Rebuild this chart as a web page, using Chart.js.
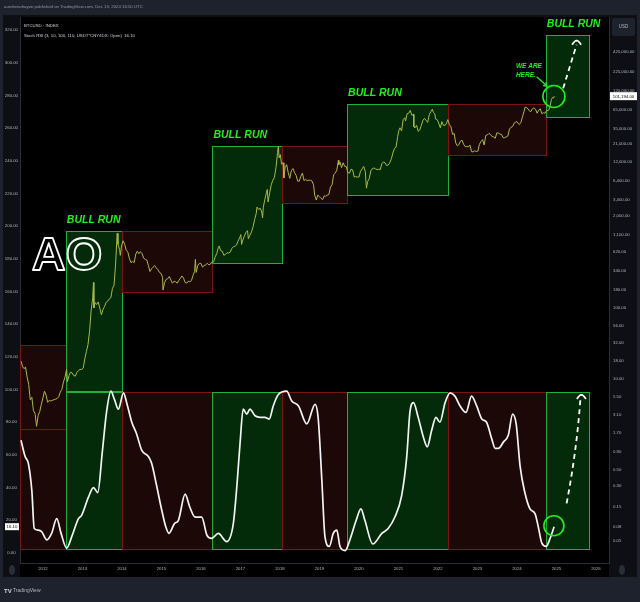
<!DOCTYPE html>
<html><head><meta charset="utf-8">
<script src="https://cdn.jsdelivr.net/npm/chart.js@4.4.1/dist/chart.umd.min.js"></script>
<style>html,body{margin:0;padding:0;background:#1e222d;}canvas{display:block;}</style>
</head><body>
<canvas id="c" width="640" height="602"></canvas>
<script>
// ---------- DATA ----------
const yearTicks = [2012,2013,2014,2015,2016,2017,2018,2019,2020,2021,2022,2023,2024,2025,2026];
const leftTicks = [0,20,40,60,80,100,120,140,160,180,200,220,240,260,280,300,320];
const rightTicks = [0.05,0.08,0.15,0.3,0.5,0.9,1.7,3.1,5.5,10,18,32,56,100,180,340,620,1100,2000,3400,6400,12000,21000,35000,65000,120000,225000,425000];

const priceDates = [2011.45,2011.48,2011.52,2011.56,2011.60,2011.64,2011.68,2011.72,2011.76,2011.80,2011.84,2011.88,2011.92,2011.96,
2012.00,2012.04,2012.08,2012.12,2012.16,2012.20,2012.24,2012.28,2012.32,2012.36,2012.40,2012.44,2012.48,2012.52,2012.56,2012.60,2012.62,2012.66,2012.70,2012.74,2012.78,2012.82,2012.86,2012.90,2012.94,2012.98,
2013.02,2013.06,2013.10,2013.14,2013.18,2013.22,2013.26,2013.28,2013.29,2013.32,2013.36,2013.40,2013.44,2013.48,2013.52,2013.56,2013.60,2013.64,2013.68,2013.72,2013.76,2013.80,2013.84,2013.88,2013.90,2013.94,2013.96,2013.99,
2014.03,2014.07,2014.11,2014.15,2014.19,2014.23,2014.27,2014.31,2014.35,2014.39,2014.43,2014.47,2014.51,2014.55,2014.59,2014.63,2014.67,2014.71,2014.75,2014.79,2014.83,2014.87,2014.91,2014.95,2014.99,
2015.03,2015.04,2015.08,2015.12,2015.16,2015.20,2015.24,2015.28,2015.32,2015.36,2015.40,2015.44,2015.48,2015.52,2015.56,2015.60,2015.64,2015.68,2015.72,2015.76,2015.80,2015.84,2015.86,2015.88,2015.92,2015.96,
2016.00,2016.04,2016.08,2016.12,2016.16,2016.20,2016.24,2016.28,2016.32,2016.36,2016.40,2016.44,2016.46,2016.50,2016.54,2016.58,2016.62,2016.66,2016.70,2016.74,2016.78,2016.82,2016.86,2016.90,2016.94,2016.98,
2017.01,2017.03,2017.06,2017.10,2017.14,2017.18,2017.20,2017.24,2017.28,2017.32,2017.36,2017.40,2017.42,2017.46,2017.50,2017.54,2017.56,2017.58,2017.62,2017.66,2017.68,2017.70,2017.74,2017.78,2017.82,2017.86,2017.90,2017.94,2017.96,2017.98,
2018.01,2018.04,2018.08,2018.10,2018.13,2018.17,2018.21,2018.25,2018.29,2018.33,2018.37,2018.41,2018.45,2018.49,2018.53,2018.57,2018.61,2018.65,2018.69,2018.73,2018.77,2018.81,2018.85,2018.88,2018.92,2018.96,
2019.00,2019.04,2019.08,2019.12,2019.16,2019.20,2019.24,2019.28,2019.32,2019.36,2019.40,2019.44,2019.48,2019.49,2019.52,2019.56,2019.60,2019.64,2019.68,2019.72,2019.76,2019.80,2019.84,2019.88,2019.92,2019.96,
2020.00,2020.04,2020.08,2020.12,2020.16,2020.19,2020.22,2020.26,2020.30,2020.34,2020.38,2020.42,2020.46,2020.50,2020.54,2020.58,2020.62,2020.66,2020.70,2020.74,2020.78,2020.82,2020.86,2020.90,2020.94,2020.98,
2021.01,2021.04,2021.08,2021.12,2021.16,2021.18,2021.22,2021.26,2021.30,2021.34,2021.38,2021.39,2021.42,2021.46,2021.50,2021.54,2021.58,2021.62,2021.66,2021.70,2021.74,2021.78,2021.82,2021.86,2021.88,2021.92,2021.94,2021.98,
2022.02,2022.06,2022.10,2022.14,2022.18,2022.22,2022.25,2022.29,2022.33,2022.37,2022.41,2022.45,2022.49,2022.53,2022.57,2022.61,2022.65,2022.69,2022.73,2022.77,2022.81,2022.85,2022.89,2022.93,2022.97,
2023.01,2023.05,2023.09,2023.13,2023.17,2023.21,2023.25,2023.29,2023.33,2023.37,2023.41,2023.45,2023.49,2023.53,2023.57,2023.61,2023.65,2023.69,2023.73,2023.77,2023.81,2023.85,2023.89,2023.93,2023.97,
2024.00,2024.03,2024.06,2024.10,2024.14,2024.18,2024.21,2024.25,2024.28,2024.31,2024.35,2024.39,2024.43,2024.47,2024.51,2024.55,2024.59,2024.63,2024.67,2024.71,2024.75,2024.79,2024.83,2024.87,2024.90,2024.92,2024.95];
const priceValues = [17.5,15.0,13.8,14.5,10.5,8.2,5.0,5.4,3.5,3.2,2.1,3.0,3.4,4.3,
5.3,6.6,5.8,4.6,4.9,4.8,4.9,5.0,5.1,5.2,5.5,6.4,7.0,8.9,10.5,13.5,9.0,11.0,12.3,12.0,11.0,10.8,12.2,12.9,13.5,13.4,
14.0,19.0,24.0,30.0,46.0,91.0,140,230,100,120,112,122,100,80,95,105,120,125,135,140,190,210,420,1150,800,680,560,760,
900,800,660,620,500,440,460,440,580,640,590,630,590,510,490,480,400,330,360,380,400,370,350,320,310,
270,180,230,255,260,280,250,225,240,235,225,245,265,285,265,230,225,240,235,245,290,330,490,320,400,430,
430,380,400,410,430,410,420,450,450,530,590,720,760,650,640,560,575,610,600,620,700,735,750,780,890,990,
1100,800,920,1050,1180,1250,960,1080,1200,1420,1800,2200,2700,2500,2600,2300,1900,2700,3500,4400,4800,3200,4300,5600,6500,7100,9800,16000,19400,13500,
15000,11000,11500,7000,9800,10800,8300,6900,8900,9500,8300,7600,6300,6300,7400,8200,6400,6700,6400,6500,6500,6350,5600,4000,3400,4000,
3800,3600,3450,3900,3850,4000,4100,5200,5600,7800,8200,9000,12500,10800,11800,9800,11500,10200,10100,8300,8200,9300,9100,7200,7300,7200,
7200,8700,9400,10200,8700,5000,6200,6800,8800,9500,9700,9400,9200,9300,9200,11100,11800,11500,10500,10700,11500,13100,15800,18400,19200,27000,
33000,36000,32500,47000,50000,45000,57000,58000,63500,54000,56000,37000,36000,39000,32000,33500,39000,46000,49000,46000,43000,55000,61000,66000,60000,57000,48000,47000,
42000,36000,44000,39000,39000,42000,47000,40000,37000,29000,30000,22000,20000,20800,23300,24000,21000,19400,19500,19300,20500,16500,16400,17000,16600,
16800,21000,23000,24500,20500,28000,28500,30000,29000,27000,26800,25500,30500,30300,29300,29000,26000,26100,26800,27500,34500,36700,37500,42000,43500,
44000,41500,40000,43000,51500,62000,71000,69000,67000,63000,61000,67000,69000,66000,58000,64000,67000,57000,59000,58000,63000,63000,69000,90000,97000,95000,101194];

const rsiDates = [2011.445,2011.55,2011.63,2011.72,2011.78,2011.88,2011.97,2012.10,2012.22,2012.35,2012.46,2012.60,2012.73,2012.90,2012.98,
2013.15,2013.28,2013.39,2013.50,2013.61,2013.72,2013.81,2013.91,2014.04,2014.12,2014.25,2014.37,2014.50,2014.67,2014.75,2014.88,
2015.01,2015.11,2015.19,2015.33,2015.43,2015.60,2015.72,2015.85,2016.02,2016.15,2016.27,2016.44,2016.65,2016.82,2016.91,2016.99,
2017.07,2017.16,2017.24,2017.37,2017.50,2017.62,2017.73,2017.83,2017.96,2018.17,2018.30,2018.47,2018.68,2018.89,2018.97,
2019.06,2019.14,2019.25,2019.35,2019.44,2019.52,2019.65,2019.77,2019.93,2020.05,2020.15,2020.35,2020.58,2020.74,2020.91,
2021.08,2021.21,2021.29,2021.38,2021.50,2021.63,2021.73,2021.84,2021.95,2022.05,2022.18,2022.31,2022.43,2022.56,2022.71,2022.85,2022.98,
2023.11,2023.23,2023.36,2023.45,2023.53,2023.66,2023.78,2023.89,2023.98,2024.08,2024.20,2024.33,2024.46,2024.54,2024.63,2024.74,2024.84,2024.94];
const rsiValues = [69,59,55,38,15,14,13,8,12,21,12,3,10,21,23,
34,40,37,61,86,99,94,88,98,92,80,73,63,59,55,41,
26,16,12,18,20,36,28,22,22,11,9,12,7,18,41,67,
88,85,88,84,83,83,82,90,97,99,93,90,79,91,82,
45,10,4,12,14,4,1.5,8,20,27,20,5.5,12,15,22,
35,59,86,92,83,71,65,75,83,80,92,98,96,90,86,96,90,
82,80,70,64,64,68,72,85,79,53,37,27,24,16,6,4,9,16.1];

// cycle boxes (price in USD on the log axis, phases)
const boxStart  = [2011.42,2012.58,2013.99,2016.29,2018.06,2019.70,2022.25,2024.73];
const boxEnd    = [2012.58,2013.99,2016.29,2018.06,2019.70,2022.25,2024.73,2025.82];
const boxTop    = [29.9,1249,1249,19860,19860,78300,78300,745000];
const boxBottom = [1.92,6.71,167,435,3086,4008,14800,51200];
const boxPhase  = ['bear','bull','bear','bull','bear','bull','bear','bull'];
const rsiBoxTop = 98.5, rsiBoxBottom = 2.5;
const lastPrice = 101194, lastRsi = 16.1;

// ---------- STYLE ----------
const GREEN_FILL='#032a09', RED_FILL='#1d0808', GREEN_LINE='#20b03a', RED_LINE='#7a1414';
const BRIGHT='#22ee22', FONT='"Liberation Sans", Arial, sans-serif';

const bg = {
  id:'bg',
  beforeDraw(c){
    const g=c.ctx, a=c.chartArea;
    g.save();
    g.fillStyle='#1e222d'; g.fillRect(0,0,640,602);
    g.fillStyle='#0d0f14'; g.fillRect(3,15,634,562);
    g.fillStyle='#000'; g.fillRect(a.left,a.top,a.right-a.left,a.bottom-a.top);
    g.fillStyle='#000'; g.fillRect(a.left,a.bottom,a.right-a.left,14);
    g.fillStyle='#9598a1'; g.font='4.3px '+FONT; g.textBaseline='middle';
    g.fillText('aurelienohayon published on TradingView.com, Dec 13, 2024 16:50 UTC',4,6.5);
    g.fillStyle='#d1d4dc'; g.font='bold 6px '+FONT; g.fillText('TV',4,591);
    g.font='5px '+FONT; g.fillStyle='#b2b5be'; g.fillText('TradingView',13,591);
    g.fillStyle='#2a2e39';
    g.beginPath(); g.ellipse(12,570,3,5,0,0,Math.PI*2); g.fill();
    g.beginPath(); g.ellipse(622,570,3,5,0,0,Math.PI*2); g.fill();
    g.restore();
  }
};

const boxes = {
  id:'boxes',
  beforeDatasetsDraw(c){
    const g=c.ctx, a=c.chartArea, x=c.scales.x, yL=c.scales.yL, yR=c.scales.yR;
    g.save(); g.beginPath(); g.rect(a.left,a.top,a.width,a.height); g.clip();
    g.lineWidth=1;
    for(let i=0;i<boxStart.length;i++){
      const bull=boxPhase[i]==='bull';
      const x0=Math.round(x.getPixelForValue(boxStart[i]))+0.5, x1=Math.round(x.getPixelForValue(boxEnd[i]))+0.5;
      const rects=[[yL.getPixelForValue(rsiBoxTop),yL.getPixelForValue(rsiBoxBottom)],[yR.getPixelForValue(boxTop[i]),yR.getPixelForValue(boxBottom[i])]];
      for(const [t,b] of rects){
        const y0=Math.round(t)+0.5, y1=Math.round(b)+0.5;
        g.fillStyle=bull?GREEN_FILL:RED_FILL; g.fillRect(x0,y0,x1-x0,y1-y0);
        g.strokeStyle=bull?GREEN_LINE:RED_LINE; g.strokeRect(x0,y0,x1-x0,y1-y0);
      }
    }
    g.restore();
  }
};

function arrowHead(g,px,py,w,h){
  g.beginPath(); g.moveTo(px-w,py+h); g.quadraticCurveTo(px-w*0.3,py-h*0.2,px,py); g.quadraticCurveTo(px+w*0.3,py-h*0.2,px+w,py+h); g.stroke();
}

const notes = {
  id:'notes',
  afterDatasetsDraw(c){
    const g=c.ctx, x=c.scales.x, yL=c.scales.yL, yR=c.scales.yR;
    g.save();
    g.fillStyle=BRIGHT; g.font='italic bold 10.5px '+FONT; g.textBaseline='alphabetic';
    for(let i=0;i<boxStart.length;i++){
      if(boxPhase[i]!=='bull') continue;
      g.fillText('BULL RUN', x.getPixelForValue(boxStart[i])+1, yR.getPixelForValue(boxTop[i])-8);
    }
    g.font='bold 47px '+FONT; g.strokeStyle='#ffffff'; g.lineWidth=1.8; g.lineJoin='round';
    g.strokeText('AO', x.getPixelForValue(2011.72), yR.getPixelForValue(346));
    g.font='italic bold 6.5px '+FONT; g.fillStyle=BRIGHT; g.textBaseline='middle';
    const wx=x.getPixelForValue(2023.974), wy=yR.getPixelForValue(265000);
    g.fillText('WE ARE',wx,wy); g.fillText('HERE.',wx,wy+8.5);
    const ax0=x.getPixelForValue(2024.498), ay0=yR.getPixelForValue(190900);
    const ax1=x.getPixelForValue(2024.758), ay1=yR.getPixelForValue(140900);
    g.strokeStyle=BRIGHT; g.lineWidth=1.3;
    g.beginPath(); g.moveTo(ax0,ay0); g.lineTo(ax1,ay1); g.stroke();
    const ang=Math.atan2(ay1-ay0,ax1-ax0);
    g.beginPath(); g.moveTo(ax1-4*Math.cos(ang-0.6),ay1-4*Math.sin(ang-0.6)); g.lineTo(ax1,ay1); g.lineTo(ax1-4*Math.cos(ang+0.6),ay1-4*Math.sin(ang+0.6)); g.stroke();
    g.lineWidth=1.6; g.strokeStyle=BRIGHT;
    g.beginPath(); g.arc(x.getPixelForValue(2024.935), yR.getPixelForValue(100000), 11, 0, Math.PI*2); g.stroke();
    g.beginPath(); g.arc(x.getPixelForValue(2024.935), yL.getPixelForValue(16.7), 10, 0, Math.PI*2); g.stroke();
    g.strokeStyle='#ffffff'; g.lineWidth=1.8; g.setLineDash([5,4]);
    const p0=[x.getPixelForValue(2025.17),yR.getPixelForValue(130700)], pm=[x.getPixelForValue(2025.358),yR.getPixelForValue(295800)], p1=[x.getPixelForValue(2025.51),yR.getPixelForValue(598500)];
    g.beginPath(); g.moveTo(p0[0],p0[1]); g.quadraticCurveTo(2*pm[0]-(p0[0]+p1[0])/2, 2*pm[1]-(p0[1]+p1[1])/2, p1[0], p1[1]+3); g.stroke();
    const q0=[x.getPixelForValue(2025.257),yL.getPixelForValue(30.4)], q1=[x.getPixelForValue(2025.606),yL.getPixelForValue(94.2)];
    g.beginPath(); g.moveTo(q0[0],q0[1]); g.quadraticCurveTo(q0[0]+10,(q0[1]+q1[1])/2,q1[0],q1[1]); g.stroke();
    g.setLineDash([]); g.lineWidth=1.8;
    arrowHead(g,p1[0],p1[1]-1,4.5,4);
    arrowHead(g,q1[0]+1,q1[1]-4,4.5,4);
    g.restore();
  },
  afterDraw(c){
    const g=c.ctx, yL=c.scales.yL, yR=c.scales.yR, a=c.chartArea;
    g.save();
    g.textBaseline='middle';
    g.fillStyle='#d1d4dc'; g.font='4.3px '+FONT;
    g.fillText('BTCUSD · INDEX', a.left+4, 25.5);
    g.fillText('Stoch RSI (3, 10, 100, 110, USDT*CNY/IDX: Open)  16.10', a.left+4, 35.5);
    g.fillStyle='#1e222d'; g.beginPath(); g.roundRect(a.right+3,18,23,18,2); g.fill();
    g.fillStyle='#b2b5be'; g.font='4.5px '+FONT; g.textAlign='center'; g.fillText('USD', a.right+14.5, 27);
    const py=yR.getPixelForValue(lastPrice);
    g.fillStyle='#ffffff'; g.fillRect(a.right+1,py-4,27,8);
    g.fillStyle='#000'; g.font='4.3px '+FONT; g.fillText('101,194.00', a.right+14.5, py+0.3);
    const ry=yL.getPixelForValue(lastRsi);
    g.fillStyle='#ffffff'; g.fillRect(5,ry-3.5,14,7);
    g.fillStyle='#000'; g.fillText('16.10', 12, ry+0.3);
    g.restore();
  }
};

const fmt2 = v => Number(v).toLocaleString('en-US',{minimumFractionDigits:2,maximumFractionDigits:2});
const tickFont = {size:4.3, family:FONT};

new Chart(document.getElementById('c'), {
  type:'line',
  data:{datasets:[
    {label:'BTCUSD', data:priceDates.map((d,i)=>({x:d,y:priceValues[i]})), yAxisID:'yR', borderColor:'#a9b943', borderWidth:1, pointRadius:0, tension:0},
    {label:'Stoch RSI', data:rsiDates.map((d,i)=>({x:d,y:rsiValues[i]})), yAxisID:'yL', borderColor:'#f4f4f4', borderWidth:1.7, pointRadius:0, cubicInterpolationMode:'monotone'}
  ]},
  options:{
    responsive:false, devicePixelRatio:1, animation:false,
    layout:{padding:{left:0,right:3,top:17,bottom:25}},
    plugins:{legend:{display:false}, tooltip:{enabled:false}},
    scales:{
      x:{type:'linear', position:'bottom', min:2011.42, max:2026.33,
         afterBuildTicks:s=>{s.ticks=yearTicks.map(v=>({value:v}));}, afterFit:s=>{s.height=14;},
         grid:{display:false, drawTicks:false}, border:{color:'#2a2e39'},
         ticks:{color:'#b2b5be', font:tickFont, padding:3, maxRotation:0, autoSkip:false, callback:v=>String(v)}},
      yL:{type:'linear', position:'left', min:-6.12, max:328,
         afterBuildTicks:s=>{s.ticks=leftTicks.map(v=>({value:v}));}, afterFit:s=>{s.width=20;},
         grid:{display:false, drawTicks:false}, border:{color:'#2a2e39'},
         ticks:{color:'#b2b5be', font:tickFont, padding:2, crossAlign:'center', autoSkip:false, callback:v=>Number(v).toFixed(2)}},
      yR:{type:'logarithmic', position:'right', min:0.02415, max:1.343e6,
         afterBuildTicks:s=>{s.ticks=rightTicks.map(v=>({value:v}));}, afterFit:s=>{s.width=28;},
         grid:{display:false, drawTicks:false}, border:{color:'#2a2e39'},
         ticks:{color:'#b2b5be', font:tickFont, padding:4, autoSkip:false, callback:v=>fmt2(v)}}
    }
  },
  plugins:[bg, boxes, notes]
});
</script>
</body></html>
